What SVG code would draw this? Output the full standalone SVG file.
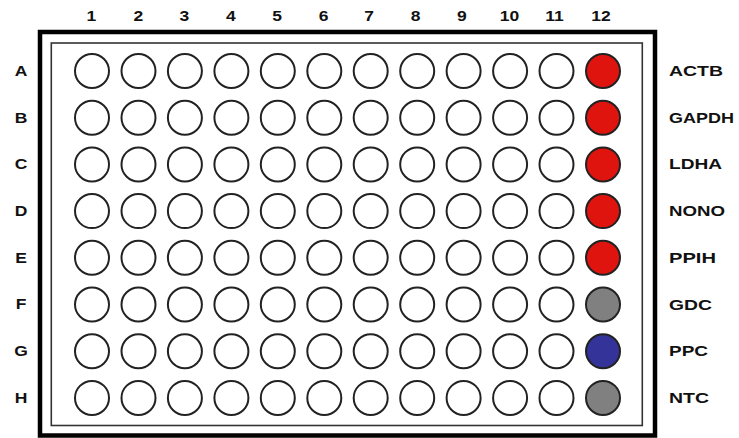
<svg xmlns="http://www.w3.org/2000/svg" width="739" height="438" viewBox="0 0 739 438">
<style>
text{font-family:"Liberation Sans",Arial,sans-serif;font-weight:bold;font-size:14px;fill:#111}
.mid{text-anchor:middle}
.w{stroke:#222;stroke-width:2;fill:#fff}
.red{fill:#e0140f}
.gray{fill:#808080}
.blue{fill:#333399}
</style>
<rect width="739" height="438" fill="#fff"/>
<g id="plate">
<rect x="40" y="32" width="615" height="403.5" fill="none" stroke="#000" stroke-width="4.5"/>
<rect x="51.3" y="43" width="591" height="382.5" fill="none" stroke="#333" stroke-width="1.6"/>
</g>
<g id="column-labels" transform="scale(1.25,1)">
<text class="mid" x="73.2" y="21">1</text>
<text class="mid" x="110.8" y="21">2</text>
<text class="mid" x="147.5" y="21">3</text>
<text class="mid" x="184.7" y="21">4</text>
<text class="mid" x="221.8" y="21">5</text>
<text class="mid" x="258.8" y="21">6</text>
<text class="mid" x="295.2" y="21">7</text>
<text class="mid" x="332.4" y="21">8</text>
<text class="mid" x="369.6" y="21">9</text>
<text class="mid" x="407.6" y="21">10</text>
<text class="mid" x="443.6" y="21">11</text>
<text class="mid" x="480.8" y="21">12</text>
</g>
<g id="row-labels" transform="scale(1.25,1)">
<text class="mid" x="16.8" y="76">A</text>
<text class="mid" x="16.8" y="122.7">B</text>
<text class="mid" x="16.8" y="169.4">C</text>
<text class="mid" x="16.8" y="216.1">D</text>
<text class="mid" x="16.8" y="262.8">E</text>
<text class="mid" x="16.8" y="309.5">F</text>
<text class="mid" x="16.8" y="356.2">G</text>
<text class="mid" x="16.8" y="402.9">H</text>
</g>
<g id="sample-labels">
<text x="669" y="76" textLength="54" lengthAdjust="spacingAndGlyphs">ACTB</text>
<text x="669" y="122.7" textLength="65" lengthAdjust="spacingAndGlyphs">GAPDH</text>
<text x="669" y="169.4" textLength="53" lengthAdjust="spacingAndGlyphs">LDHA</text>
<text x="669" y="216.1" textLength="56" lengthAdjust="spacingAndGlyphs">NONO</text>
<text x="669" y="262.8" textLength="47" lengthAdjust="spacingAndGlyphs">PPIH</text>
<text x="669" y="309.5" textLength="43" lengthAdjust="spacingAndGlyphs">GDC</text>
<text x="669" y="356.2" textLength="39" lengthAdjust="spacingAndGlyphs">PPC</text>
<text x="669" y="402.9" textLength="40" lengthAdjust="spacingAndGlyphs">NTC</text>
</g>
<defs>
<g id="wellrow">
<circle class="w" cx="92" cy="0" r="17"/>
<circle class="w" cx="138.5" cy="0" r="17"/>
<circle class="w" cx="184.9" cy="0" r="17"/>
<circle class="w" cx="231.4" cy="0" r="17"/>
<circle class="w" cx="277.8" cy="0" r="17"/>
<circle class="w" cx="324.3" cy="0" r="17"/>
<circle class="w" cx="370.7" cy="0" r="17"/>
<circle class="w" cx="417.2" cy="0" r="17"/>
<circle class="w" cx="463.6" cy="0" r="17"/>
<circle class="w" cx="510.1" cy="0" r="17"/>
<circle class="w" cx="556.5" cy="0" r="17"/>
</g>
</defs>
<g id="row-A"><use href="#wellrow" y="71"/><circle id="well-A12" class="w red" cx="603" cy="71" r="17"/></g>
<g id="row-B"><use href="#wellrow" y="117.7"/><circle id="well-B12" class="w red" cx="603" cy="117.7" r="17"/></g>
<g id="row-C"><use href="#wellrow" y="164.4"/><circle id="well-C12" class="w red" cx="603" cy="164.4" r="17"/></g>
<g id="row-D"><use href="#wellrow" y="211.1"/><circle id="well-D12" class="w red" cx="603" cy="211.1" r="17"/></g>
<g id="row-E"><use href="#wellrow" y="257.8"/><circle id="well-E12" class="w red" cx="603" cy="257.8" r="17"/></g>
<g id="row-F"><use href="#wellrow" y="304.5"/><circle id="well-F12" class="w gray" cx="603" cy="304.5" r="17"/></g>
<g id="row-G"><use href="#wellrow" y="351.2"/><circle id="well-G12" class="w blue" cx="603" cy="351.2" r="17"/></g>
<g id="row-H"><use href="#wellrow" y="397.9"/><circle id="well-H12" class="w gray" cx="603" cy="397.9" r="17"/></g>
<g id="connectors"/>
</svg>
